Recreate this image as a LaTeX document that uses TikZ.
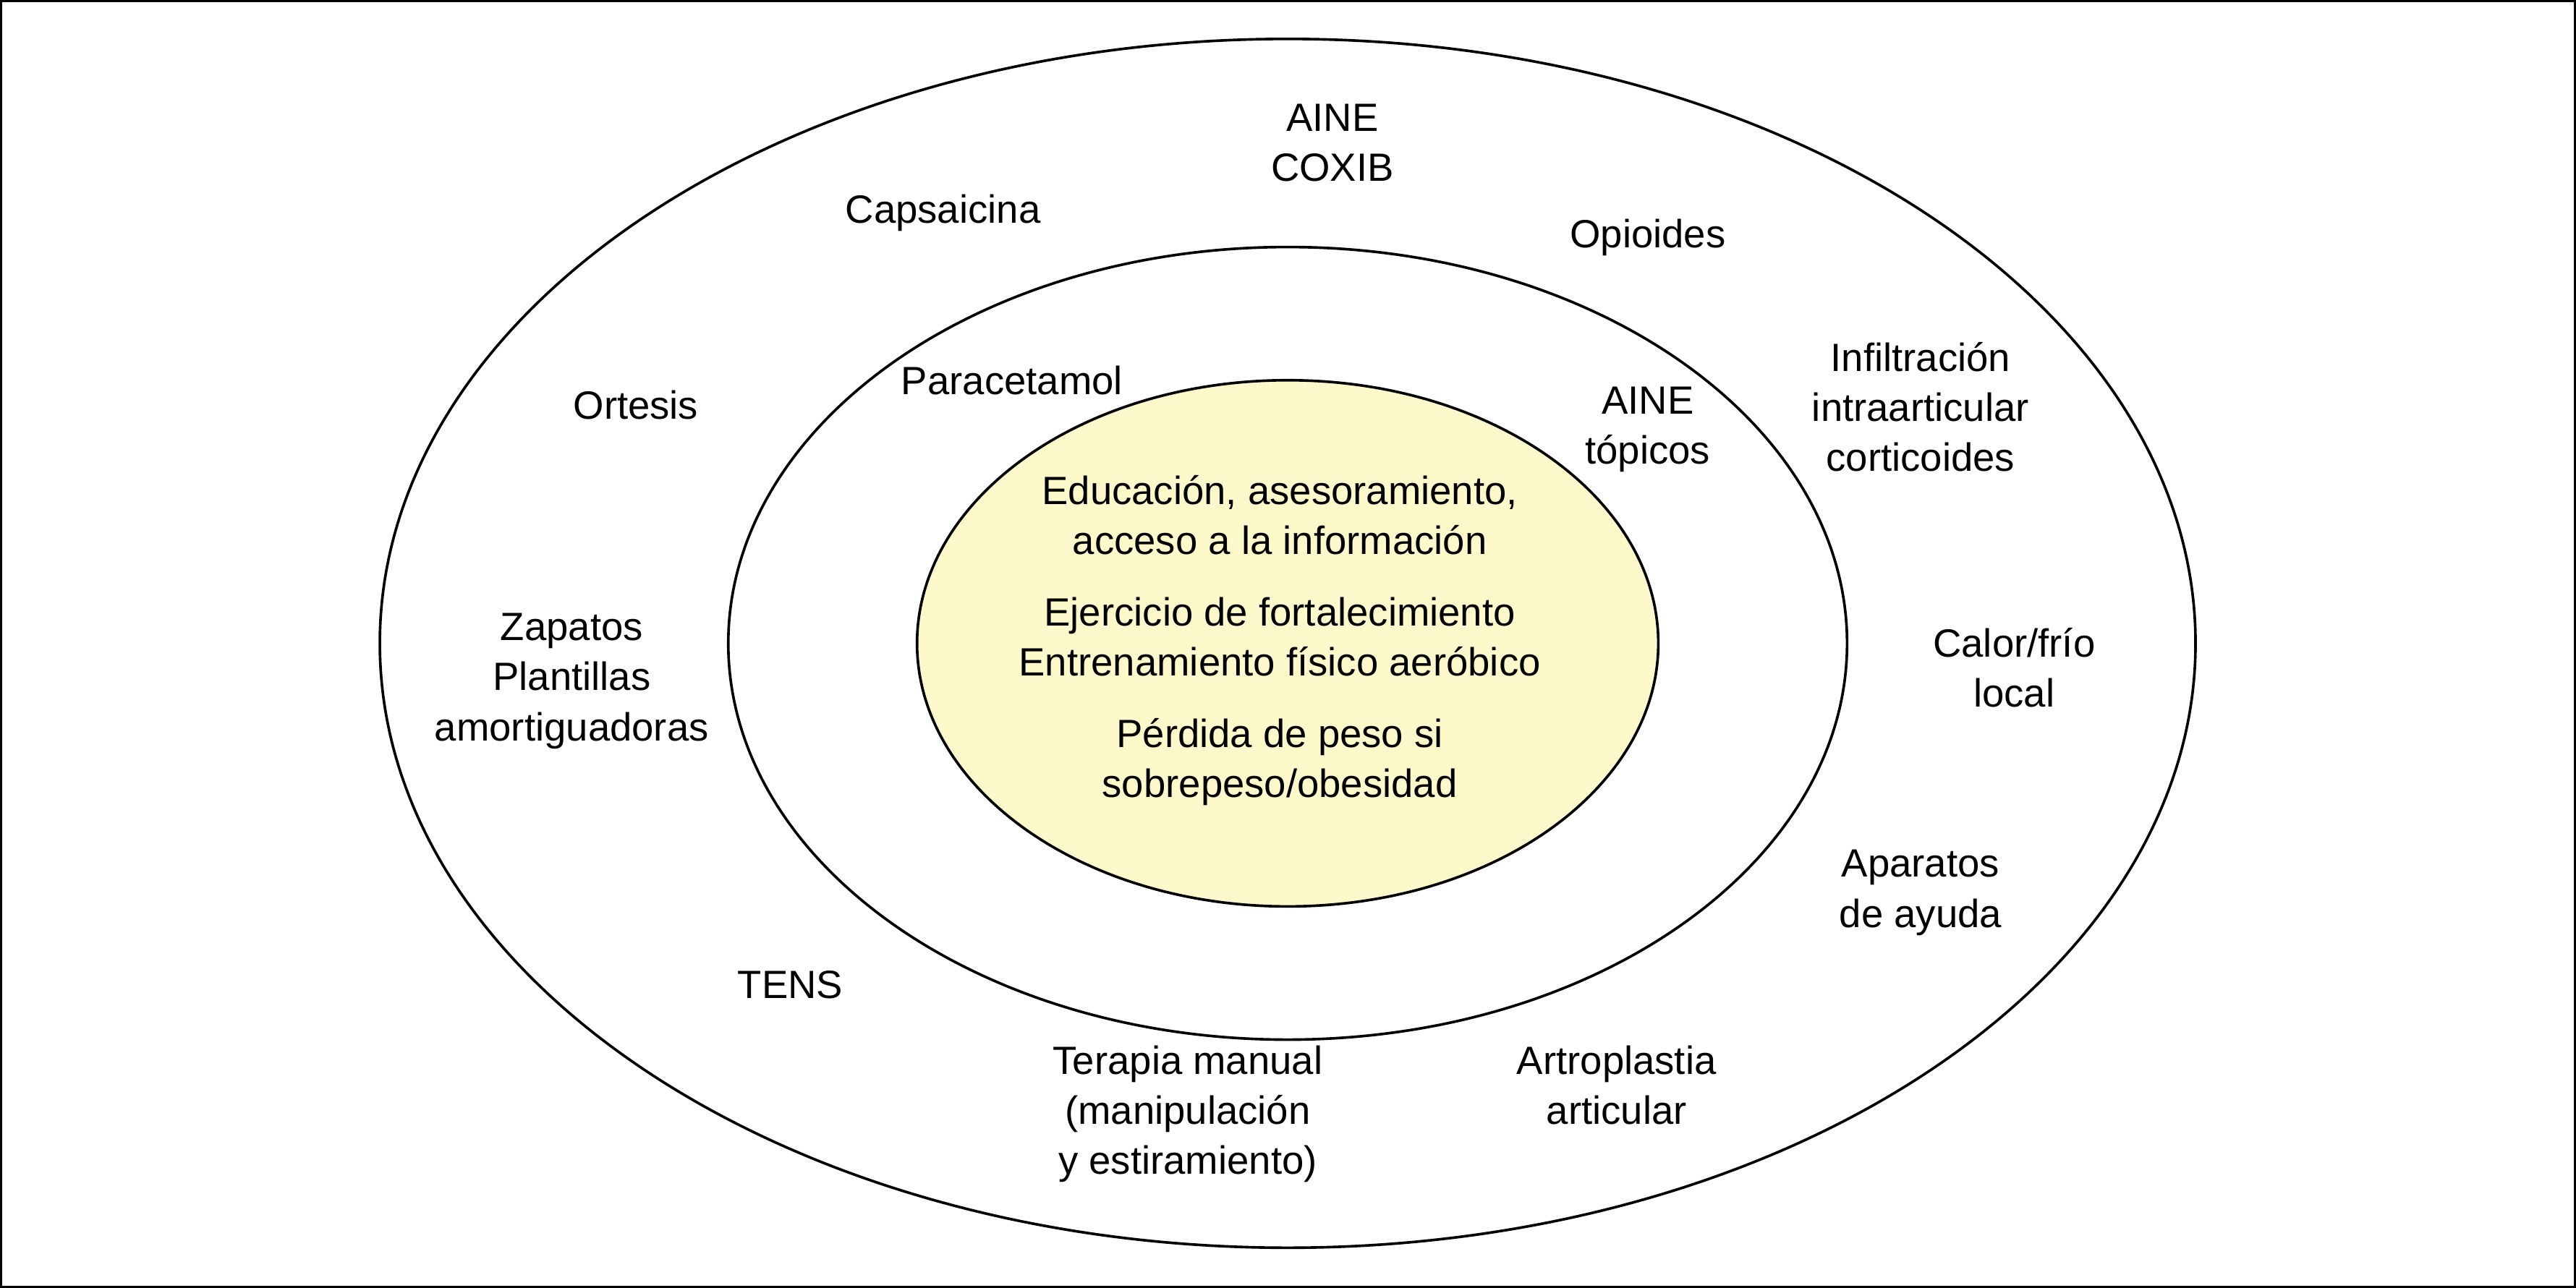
\documentclass[tikz,border=0pt]{standalone}
\usepackage{fontspec}
\setmainfont{Liberation Sans}
\usetikzlibrary{shapes.geometric}
\definecolor{coreyellow}{RGB}{253,249,203}
\tikzset{
  ring/.style={draw=black, line width=1.6pt},
  lbl/.style={align=center, inner sep=0pt, font=\fontsize{24}{30.5}\selectfont, anchor=base}
}
\begin{document}
\begin{tikzpicture}[x=1pt,y=-1pt]
\useasboundingbox (0,0) rectangle (1568,784);
\draw[line width=1.3pt] (0.65,0.65) rectangle (1567.35,783.35);
\draw[ring] (783.8,391.7) ellipse [x radius=552.6pt, y radius=368pt];
\draw[ring] (783.8,391.7) ellipse [x radius=340.5pt, y radius=241.3pt];
\draw[ring, fill=coreyellow] (783.8,391.7) ellipse [x radius=225.6pt, y radius=160.2pt];

% core (anchor = baseline of last line)
\node[lbl] (edu) at (779,337.5) {Educación, asesoramiento,\\acceso a la información};
\node[lbl] (eje) at (779,411.5) {Ejercicio de fortalecimiento\\Entrenamiento físico aeróbico};
\node[lbl] (pes) at (779,485.5) {Pérdida de peso si\\sobrepeso/obesidad};

% middle ring
\node[lbl] (par) at (616,240) {Paracetamol};
\node[lbl] (ainet) at (1003,282.5) {AINE\\tópicos};
\node[lbl] (ter) at (723,715) {Terapia manual\\(manipulación\\y estiramiento)};

% outer ring
\node[lbl] (aine) at (811,110.5) {AINE\\COXIB};
\node[lbl] (cap) at (574,136) {Capsaicina};
\node[lbl] (opi) at (1003,151) {Opioides};
\node[lbl] (ort) at (387,255) {Ortesis};
\node[lbl] (inf) at (1169,287) {Infiltración\\intraarticular\\corticoides};
\node[lbl] (cal) at (1226,430.5) {Calor/frío\\local};
\node[lbl] (zap) at (348,451) {Zapatos\\Plantillas\\amortiguadoras};
\node[lbl] (apa) at (1169,564.5) {Aparatos\\de ayuda};
\node[lbl] (tens) at (481,608) {TENS};
\node[lbl] (art) at (984,684.5) {Artroplastia\\articular};
\end{tikzpicture}
\end{document}
